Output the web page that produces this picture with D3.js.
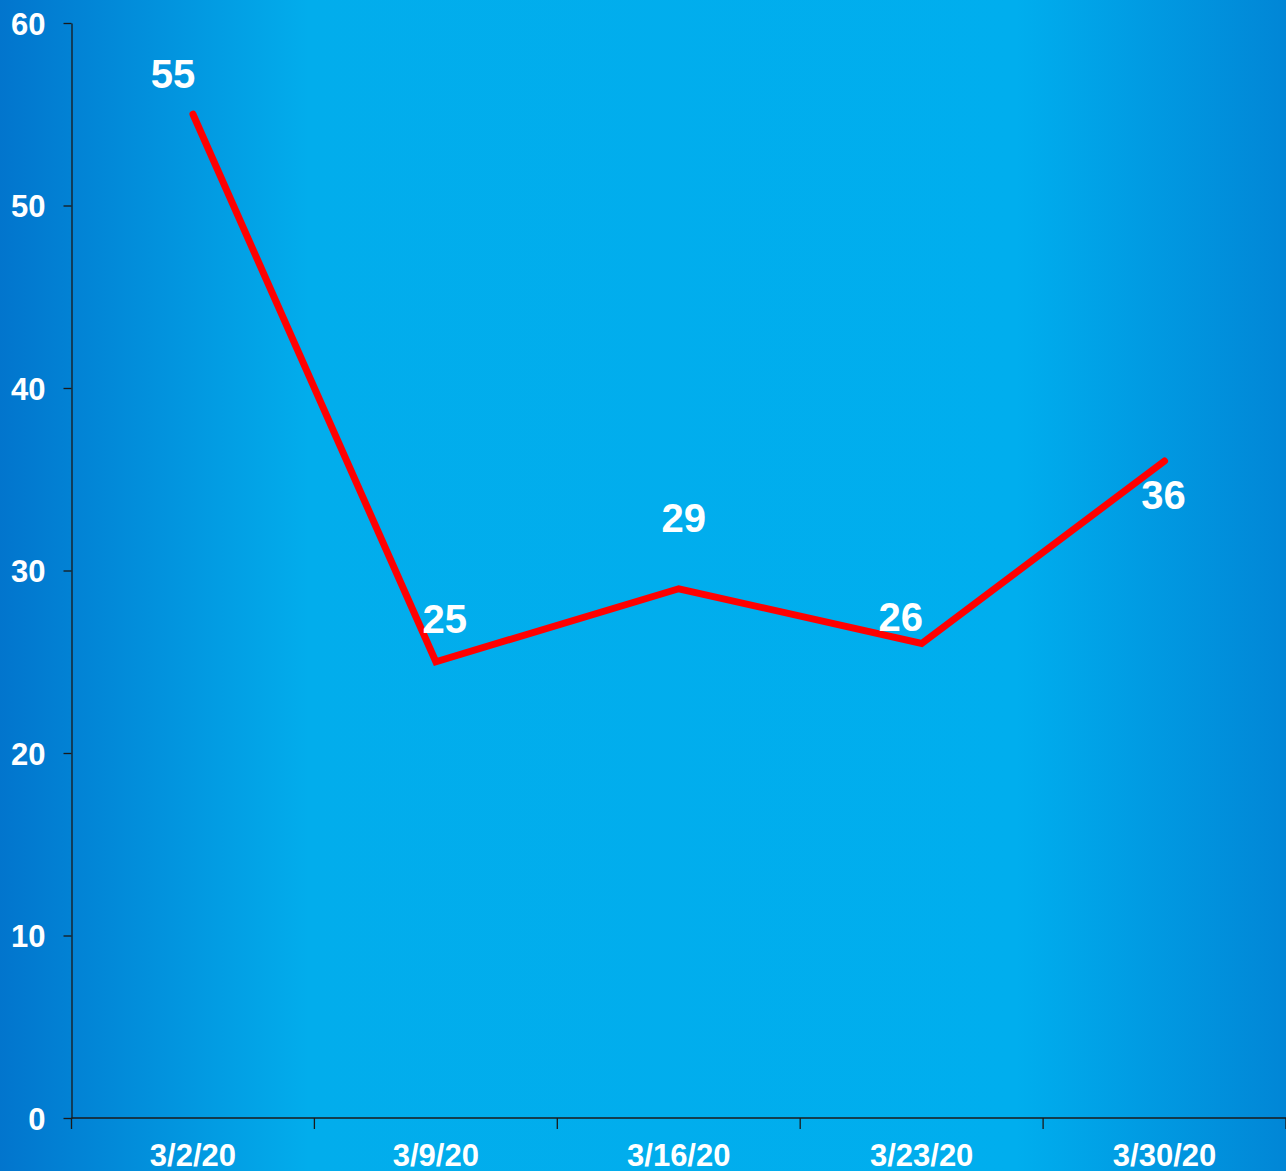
<!DOCTYPE html>
<html>
<head>
<meta charset="utf-8">
<script src="https://cdn.jsdelivr.net/npm/d3@7"></script>
<style>
  html, body { margin: 0; padding: 0; }
  body { width: 1286px; height: 1171px; overflow: hidden; }
  svg { display: block; font-family: "Liberation Sans", Arial, sans-serif; }
</style>
</head>
<body>
<div id="chart"></div>
<script>
// weekly values
var weeks = ["3/2/20", "3/9/20", "3/16/20", "3/23/20", "3/30/20"];
var counts = [55, 25, 29, 26, 36];
var yTicks = [0, 10, 20, 30, 40, 50, 60];

// label nudges (px) so numbers sit where the original put them
var labelDx = [-20, 9, 5, -21, -1];
var labelDy = [-26, -29, -57, -13, 48];

var W = 1286, H = 1171;
var margin = {top: 23, right: 0, bottom: 53, left: 71.5};

var svg = d3.select("#chart").append("svg")
    .attr("width", W)
    .attr("height", H);

var defs = svg.append("defs");
var grad = defs.append("linearGradient")
    .attr("id", "bg")
    .attr("x1", "0%").attr("x2", "100%")
    .attr("y1", "0%").attr("y2", "0%");
grad.append("stop").attr("offset", "0%").attr("stop-color", "#0275cd");
grad.append("stop").attr("offset", "24%").attr("stop-color", "#02adec");
grad.append("stop").attr("offset", "79%").attr("stop-color", "#00aeee");
grad.append("stop").attr("offset", "100%").attr("stop-color", "#0186d6");

svg.append("rect")
    .attr("width", W)
    .attr("height", H)
    .attr("fill", "url(#bg)");

var x = d3.scaleBand()
    .domain(weeks)
    .range([margin.left, W - margin.right]);

var y = d3.scaleLinear()
    .domain([0, 60])
    .range([H - margin.bottom, margin.top]);

// y axis
var yAxis = svg.append("g")
    .attr("transform", "translate(" + margin.left + ",0)")
    .call(d3.axisLeft(y).tickValues(yTicks).tickSize(8).tickPadding(18).tickSizeOuter(0));
yAxis.select(".domain").attr("stroke", "#1a1a1a").attr("stroke-width", 1.3);
yAxis.selectAll(".tick line").attr("stroke", "#1a1a1a").attr("stroke-width", 1.3);
yAxis.selectAll(".tick text")
    .attr("fill", "#ffffff")
    .attr("font-size", "31px")
    .attr("font-weight", "bold")
    .attr("dy", "0.36em");

// x axis, ticks sit on band edges
var xAxis = svg.append("g")
    .attr("transform", "translate(0," + y(0) + ")")
    .call(d3.axisBottom(x).tickSize(0).tickPadding(0).tickSizeOuter(0));
xAxis.select(".domain")
    .attr("d", "M" + margin.left + ",0H" + (W - margin.right))
    .attr("stroke", "#1a1a1a").attr("stroke-width", 1.3);
xAxis.selectAll(".tick text")
    .attr("fill", "#ffffff")
    .attr("font-size", "31px")
    .attr("font-weight", "bold")
    .attr("y", 48)
    .attr("dy", 0);

var edges = weeks.map(function(w) { return x(w); }).concat([x.range()[1]]);
xAxis.selectAll("line.edge")
    .data(edges)
    .enter().append("line")
    .attr("class", "edge")
    .attr("x1", function(d) { return d; })
    .attr("x2", function(d) { return d; })
    .attr("y1", 0)
    .attr("y2", 11)
    .attr("stroke", "#1a1a1a")
    .attr("stroke-width", 1.3);

// the red line
var pts = weeks.map(function(w, i) { return {week: w, value: counts[i], i: i}; });
var line = d3.line()
    .x(function(d) { return x(d.week) + x.bandwidth() / 2; })
    .y(function(d) { return y(d.value); });

svg.append("path")
    .datum(pts)
    .attr("d", line)
    .attr("fill", "none")
    .attr("stroke", "#ff0000")
    .attr("stroke-width", 7)
    .attr("stroke-linejoin", "miter")
    .attr("stroke-linecap", "round");

svg.selectAll("text.val")
    .data(pts)
    .enter().append("text")
    .attr("class", "val")
    .attr("x", function(d) { return x(d.week) + x.bandwidth() / 2 + labelDx[d.i]; })
    .attr("y", function(d) { return y(d.value) + labelDy[d.i]; })
    .attr("text-anchor", "middle")
    .attr("fill", "#ffffff")
    .attr("font-size", "40px")
    .attr("font-weight", "bold")
    .text(function(d) { return d.value; });
</script>
</body>
</html>
